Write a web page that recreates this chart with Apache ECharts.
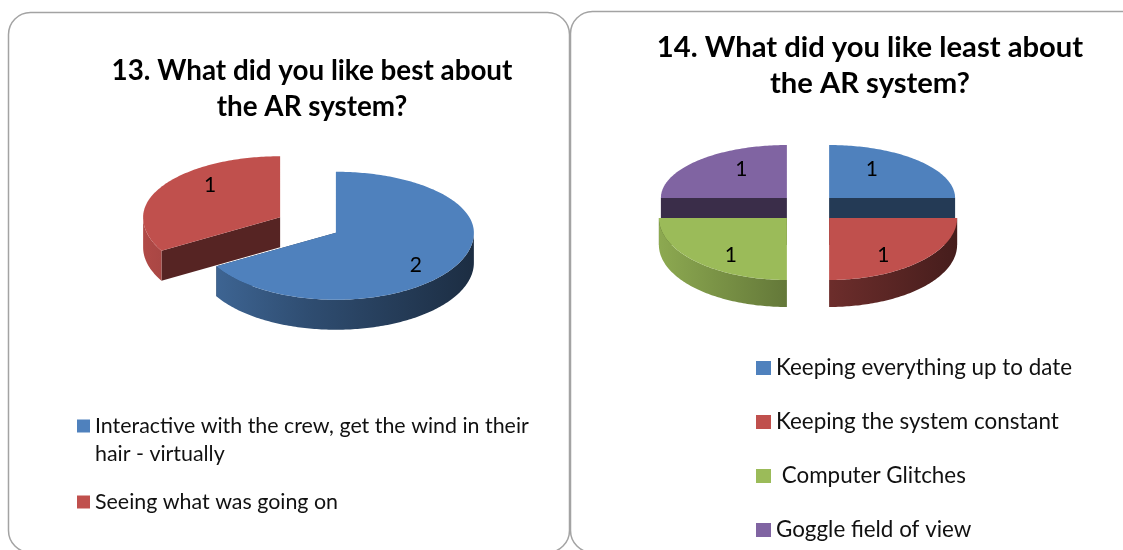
<!DOCTYPE html>
<html>
<head>
<meta charset="utf-8">
<style>html,body{margin:0;padding:0;background:#fff}#chart{width:1123px;height:550px}</style>
<script src="https://cdn.jsdelivr.net/npm/echarts@6/dist/echarts.min.js"></script>
</head>
<body>
<div id="chart"></div>
<script>
// Survey answers, questions 13 and 14
const bestTitle = '13. What did you like best about\nthe AR system?';
const bestCategories = ['Interactive with the crew, get the wind in their\nhair - virtually', 'Seeing what was going on'];
const bestValues = [2, 1];

const leastTitle = '14. What did you like least about\nthe AR system?';
const leastCategories = ['Keeping everything up to date', 'Keeping the system constant', ' Computer Glitches', 'Goggle field of view'];
const leastValues = [1, 1, 1, 1];

const palette = ['#4f81bd', '#c0504d', '#9bbb59', '#8064a2'];
const FONT = 'Lato, Carlito, Calibri, sans-serif';

// Projection settings for the two tilted, exploded pies
const bestPie = {
  cx: 308, cy: 225, rxFront: 138, rxBack: 137, ryBack: 61, ryFront: 67, depth: 30,
  explode: 0.235, explodeRx: 137, explodeRy: 66,
  labelPos: [[0.67, 0.98], [0.59, 1.06]]
};
const leastPie = {
  cx: 808, cy: 208, rxFront: 128, rxBack: 126, ryBack: 53, ryFront: 62, depth: 27,
  explode: 0.235, explodeRx: 127, explodeRy: 60,
  labelPos: [[0.48, 0.77], [0.6, 0.84], [0.62, 0.84], [0.51, 0.77]]
};

function shade(hex, k) {
  const n = parseInt(hex.slice(1), 16);
  const c = [n >> 16, (n >> 8) & 255, n & 255].map(v => Math.round(v * k));
  return 'rgb(' + c.join(',') + ')';
}

// One custom series per slice, so each has its own legend entry
function sliceSeries(names, values, pie) {
  const total = values.reduce((a, b) => a + b, 0);
  let running = 0;
  return names.map((name, i) => {
    const colorBase = palette[i];
    const startShare = running / total;
    running += values[i];
    return {
      type: 'custom',
      name: name,
      coordinateSystem: 'none',
      silent: true,
      animation: false,
      itemStyle: { color: colorBase },
      data: [[values[i]]],
      renderItem: function (params, api) {
        const share = api.value(0) / total;
        const a0 = startShare * 2 * Math.PI;
        const a1 = a0 + share * 2 * Math.PI;
        const mid = (a0 + a1) / 2;
        const rx = Math.cos(mid) < 0 ? pie.rxFront : pie.rxBack;
        const ax = pie.cx + pie.explode * pie.explodeRx * Math.sin(mid);
        const ay = pie.cy - pie.explode * pie.explodeRy * Math.cos(mid);
        const project = t => [
          ax + rx * Math.sin(t),
          ay - Math.cos(t) * (Math.cos(t) > 0 ? pie.ryBack : pie.ryFront)
        ];
        const arc = (from, to) => {
          const steps = Math.max(2, Math.ceil(Math.abs(to - from) / (Math.PI / 180)));
          const pts = [];
          for (let s = 0; s <= steps; s++) pts.push(project(from + (to - from) * s / steps));
          return pts;
        };
        const base = Math.cos(mid) < 0 ? 10 : 0;
        const children = [];

        // Cut faces along both straight edges
        [a0, a1].forEach(t => {
          const rim = project(t);
          children.push({
            type: 'polygon', z2: base,
            shape: { points: [[ax, ay], rim, [rim[0], rim[1] + pie.depth], [ax, ay + pie.depth]] },
            style: { fill: shade(colorBase, 0.45) }
          });
        });

        // Outer wall on the near half of the rim
        const w0 = Math.max(a0, Math.PI / 2);
        const w1 = Math.min(a1, 1.5 * Math.PI);
        if (w1 > w0) {
          const rim = arc(w0, w1);
          const lower = rim.map(p => [p[0], p[1] + pie.depth]).reverse();
          children.push({
            type: 'polygon', z2: base + 1,
            shape: { points: rim.concat(lower) },
            style: {
              fill: {
                type: 'linear', global: true,
                x: pie.cx - pie.explodeRx - 30, y: 0, x2: pie.cx + pie.explodeRx + 30, y2: 0,
                colorStops: [
                  { offset: 0, color: shade(colorBase, 0.92) },
                  { offset: 0.5, color: shade(colorBase, 0.6) },
                  { offset: 1, color: shade(colorBase, 0.35) }
                ]
              }
            }
          });
        }

        // Top face
        children.push({
          type: 'polygon', z2: base + 2,
          shape: { points: [[ax, ay]].concat(arc(a0, a1)) },
          style: { fill: colorBase }
        });

        // Value label
        const lp = pie.labelPos[i];
        children.push({
          type: 'text', z2: base + 3,
          x: ax + lp[0] * rx * Math.sin(mid),
          y: ay - lp[1] * Math.cos(mid) * (Math.cos(mid) > 0 ? pie.ryBack : pie.ryFront),
          style: {
            text: String(api.value(0)), fill: '#000', font: '21px ' + FONT,
            align: 'center', verticalAlign: 'middle'
          }
        });
        return { type: 'group', children: children };
      }
    };
  });
}

const chart = echarts.init(document.getElementById('chart'), null, { renderer: 'canvas' });
chart.setOption({
  backgroundColor: '#fff',
  animation: false,
  title: [
    {
      text: bestTitle, left: 312, top: 53, padding: 0, textAlign: 'center',
      textStyle: { fontFamily: FONT, fontWeight: 'bold', fontSize: 27.8, lineHeight: 36, color: '#000' }
    },
    {
      text: leastTitle, left: 870, top: 30, padding: 0, textAlign: 'center',
      textStyle: { fontFamily: FONT, fontWeight: 'bold', fontSize: 29.2, lineHeight: 36, color: '#000' }
    }
  ],
  legend: [
    {
      orient: 'vertical', left: 77, top: 384, padding: 0, itemGap: 20, icon: 'rect',
      itemWidth: 13, itemHeight: 13, height: 160,
      selectedMode: false,
      // A blank leading line keeps the swatch level with the first line of a wrapped entry
      formatter: name => (name.indexOf('\n') >= 0 ? '\n' + name : name),
      textStyle: { fontFamily: FONT, fontSize: 21.4, lineHeight: 28, color: '#111' },
      data: bestCategories
    },
    {
      orient: 'vertical', left: 756, top: 354, padding: 0, itemGap: 26, icon: 'rect',
      itemWidth: 15, itemHeight: 14, height: 220,
      selectedMode: false,
      textStyle: { fontFamily: FONT, fontSize: 22.4, lineHeight: 28, color: '#111' },
      data: leastCategories
    }
  ],
  graphic: [
    {
      type: 'rect', z: -1,
      shape: { x: 8.5, y: 12.5, width: 561, height: 540, r: 22 },
      style: { fill: '#fff', stroke: '#a3a3a3', lineWidth: 1.5 }
    },
    {
      type: 'rect', z: -1,
      shape: { x: 570.5, y: 11.5, width: 600, height: 541, r: 22 },
      style: { fill: '#fff', stroke: '#a3a3a3', lineWidth: 1.5 }
    }
  ],
  series: sliceSeries(bestCategories, bestValues, bestPie)
    .concat(sliceSeries(leastCategories, leastValues, leastPie))
});
</script>
</body>
</html>
